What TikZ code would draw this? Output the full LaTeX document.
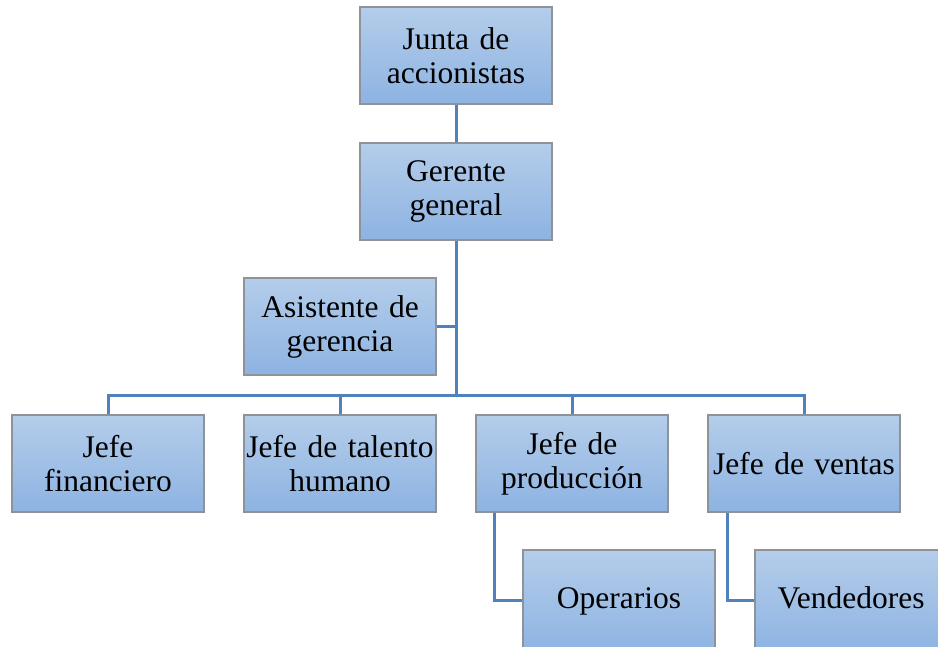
\documentclass[tikz,border=0pt]{standalone}
\usepackage{fontspec}
\setmainfont{Liberation Serif}
\definecolor{topc}{HTML}{B4CDEA}
\definecolor{botc}{HTML}{8DB3E2}
\definecolor{boxgray}{HTML}{8E9299}
\definecolor{linec}{HTML}{4F81BD}
\begin{document}
\begin{tikzpicture}[x=1pt,y=-1pt,
  box/.style={draw=boxgray, line width=1.6pt, top color=topc, bottom color=botc,
    minimum width=192pt, minimum height=97pt, inner sep=0pt, align=center,
    text width=188pt, font=\fontsize{31.5}{34}\selectfont},
  tallbox/.style={box, minimum height=104pt},
  link/.style={draw=linec, line width=3pt}]
\useasboundingbox (0,0) rectangle (938,646);
\node[box] (jun) at (456,55.5) {Junta de\\accionistas};
\node[box] (ger) at (456,191.5) {Gerente\\general};
\node[box] (asi) at (340,326.5) {Asistente de\\gerencia};
\node[box] (fin) at (108,463.5) {Jefe\\financiero};
\node[box] (tal) at (340,463.5) {Jefe de talento\\humano};
\node[box] (pro) at (572,463.5) {Jefe de\\producción};
\node[box] (ven) at (804,463.5) {Jefe de ventas};
\node[tallbox] (ope) at (619,602) {Operarios\strut};
\node[tallbox] (vnd) at (851,602) {Vendedores\strut};
\coordinate (bus) at (456,395);
\draw[link] (jun.south) -- (ger.north);
\draw[link] (ger.south) -- (bus);
\draw[link] (asi.east) -- (asi.east -| bus);
\draw[link] (fin.north) |- (bus) -| (ven.north);
\draw[link] (tal.north) -- (tal.north |- bus);
\draw[link] (pro.north) -- (pro.north |- bus);
\draw[link] ([xshift=-78pt]pro.south) |- ([yshift=2pt]ope.west);
\draw[link] ([xshift=-77pt]ven.south) |- ([yshift=2pt]vnd.west);
\end{tikzpicture}
\end{document}
